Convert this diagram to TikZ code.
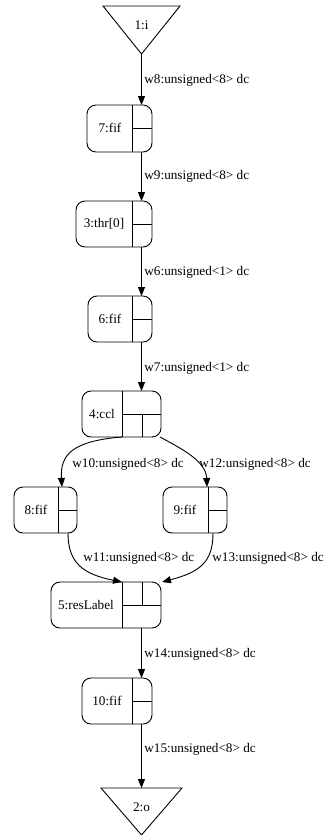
\documentclass[tikz,border=0pt]{standalone}
\usepackage{fontspec}
\setmainfont{Liberation Serif}
\usetikzlibrary{arrows.meta}

\begin{document}
\begin{tikzpicture}[x=1bp, y=-1bp, line width=0.9bp,
    rec/.style={draw, rounded corners=9bp, inner sep=0pt},
    wire/.style={-{Triangle[length=9bp,width=7bp]}},
    lbl/.style={anchor=west, inner sep=0pt, font=\fontsize{13.2bp}{15bp}\selectfont},
    txt/.style={inner sep=0pt, font=\fontsize{13.2bp}{15bp}\selectfont}]
        \useasboundingbox (0,0) rectangle (324,835);
        % input and output ports
        \draw (103,6) -- (180,6) -- (141.5,54) -- cycle;
        \node[txt] (t1) at (141.5,25) {1:i};
        \coordinate (p1o) at (141.5,54);
        \draw (101,788) -- (182,788) -- (141.5,835) -- cycle;
        \node[txt] (t2) at (141.5,807) {2:o};
        \coordinate (p2i) at (141.5,788);
        % 7:fif
        \node[rec, minimum width=65bp, minimum height=47bp] (n7) at (119.5,128.5) {};
        \node[txt] (t7) at (110,128) {7:fif};
        \draw (132,105) -- (132,152) (132,128.5) -- (152,128.5);
        \coordinate (p7i) at (141.5,105); \coordinate (p7o) at (141.5,152);
        % 3:thr[0]
        \node[rec, minimum width=76bp, minimum height=46bp] (n3) at (114,224) {};
        \node[txt] (t3) at (104,224) {3:thr[0]};
        \draw (132,201) -- (132,247) (132,224) -- (152,224);
        \coordinate (p3i) at (141.5,201); \coordinate (p3o) at (141.5,247);
        % 6:fif
        \node[rec, minimum width=64bp, minimum height=46bp] (n6) at (120,319) {};
        \node[txt] (t6) at (110,319) {6:fif};
        \draw (132,296) -- (132,342) (132,319) -- (152,319);
        \coordinate (p6i) at (141.5,296); \coordinate (p6o) at (141.5,342);
        % 4:ccl
        \node[rec, minimum width=79bp, minimum height=46bp] (n4) at (121.5,414) {};
        \node[txt] (t4) at (102,414) {4:ccl};
        \draw (122,391) -- (122,437) (122,414) -- (161,414) (142,414) -- (142,437);
        \coordinate (p4i) at (141.5,391);
        \coordinate (p4a) at (122,437); \coordinate (p4b) at (160,437);
        % 8:fif
        \node[rec, minimum width=63bp, minimum height=46bp] (n8) at (45.5,510) {};
        \node[txt] (t8) at (36,510) {8:fif};
        \draw (58,487) -- (58,533) (58,510) -- (77,510);
        \coordinate (p8i) at (62,487); \coordinate (p8o) at (68,533);
        % 9:fif
        \node[rec, minimum width=64bp, minimum height=46bp] (n9) at (195,510) {};
        \node[txt] (t9) at (185,510) {9:fif};
        \draw (208,487) -- (208,533) (208,510) -- (227,510);
        \coordinate (p9i) at (207,487); \coordinate (p9o) at (213,533);
        % 5:resLabel
        \node[rec, minimum width=110bp, minimum height=46bp] (n5) at (106,605) {};
        \node[txt] (t5) at (86,605) {5:resLabel};
        \draw (122,582) -- (122,628) (122,605) -- (161,605) (142,582) -- (142,605);
        \coordinate (p5a) at (122,582); \coordinate (p5b) at (162,582);
        \coordinate (p5o) at (141.5,628);
        % 10:fif
        \node[rec, minimum width=70bp, minimum height=46bp] (n10) at (117,701) {};
        \node[txt] (t10) at (107,701) {10:fif};
        \draw (132,678) -- (132,724) (132,701) -- (152,701);
        \coordinate (p10i) at (141.5,678); \coordinate (p10o) at (141.5,724);
        % wires
        \draw[wire] (p1o) -- (p7i);
        \node[lbl] (w8) at (144,80) {w8:unsigned<8> dc};
        \draw[wire] (p7o) -- (p3i);
        \node[lbl] (w9) at (144,176) {w9:unsigned<8> dc};
        \draw[wire] (p3o) -- (p6i);
        \node[lbl] (w6) at (144,272) {w6:unsigned<1> dc};
        \draw[wire] (p6o) -- (p4i);
        \node[lbl] (w7) at (144,368) {w7:unsigned<1> dc};
        \draw[wire] (p4a) .. controls (72,441) and (60,455) .. (p8i);
        \node[lbl] (w10) at (72,464) {w10:unsigned<8> dc};
        \draw[wire] (p4b) .. controls (178,447) and (206,460) .. (p9i);
        \node[lbl] (w12) at (199,464) {w12:unsigned<8> dc};
        \draw[wire] (p8o) .. controls (68,562) and (82,574) .. (p5a);
        \node[lbl] (w11) at (83,558) {w11:unsigned<8> dc};
        \draw[wire] (p9o) .. controls (213,562) and (200,572) .. (p5b);
        \node[lbl] (w13) at (212,558) {w13:unsigned<8> dc};
        \draw[wire] (p5o) -- (p10i);
        \node[lbl] (w14) at (144,654) {w14:unsigned<8> dc};
        \draw[wire] (p10o) -- (p2i);
        \node[lbl] (w15) at (144,749) {w15:unsigned<8> dc};
      \end{tikzpicture}
\end{document}
